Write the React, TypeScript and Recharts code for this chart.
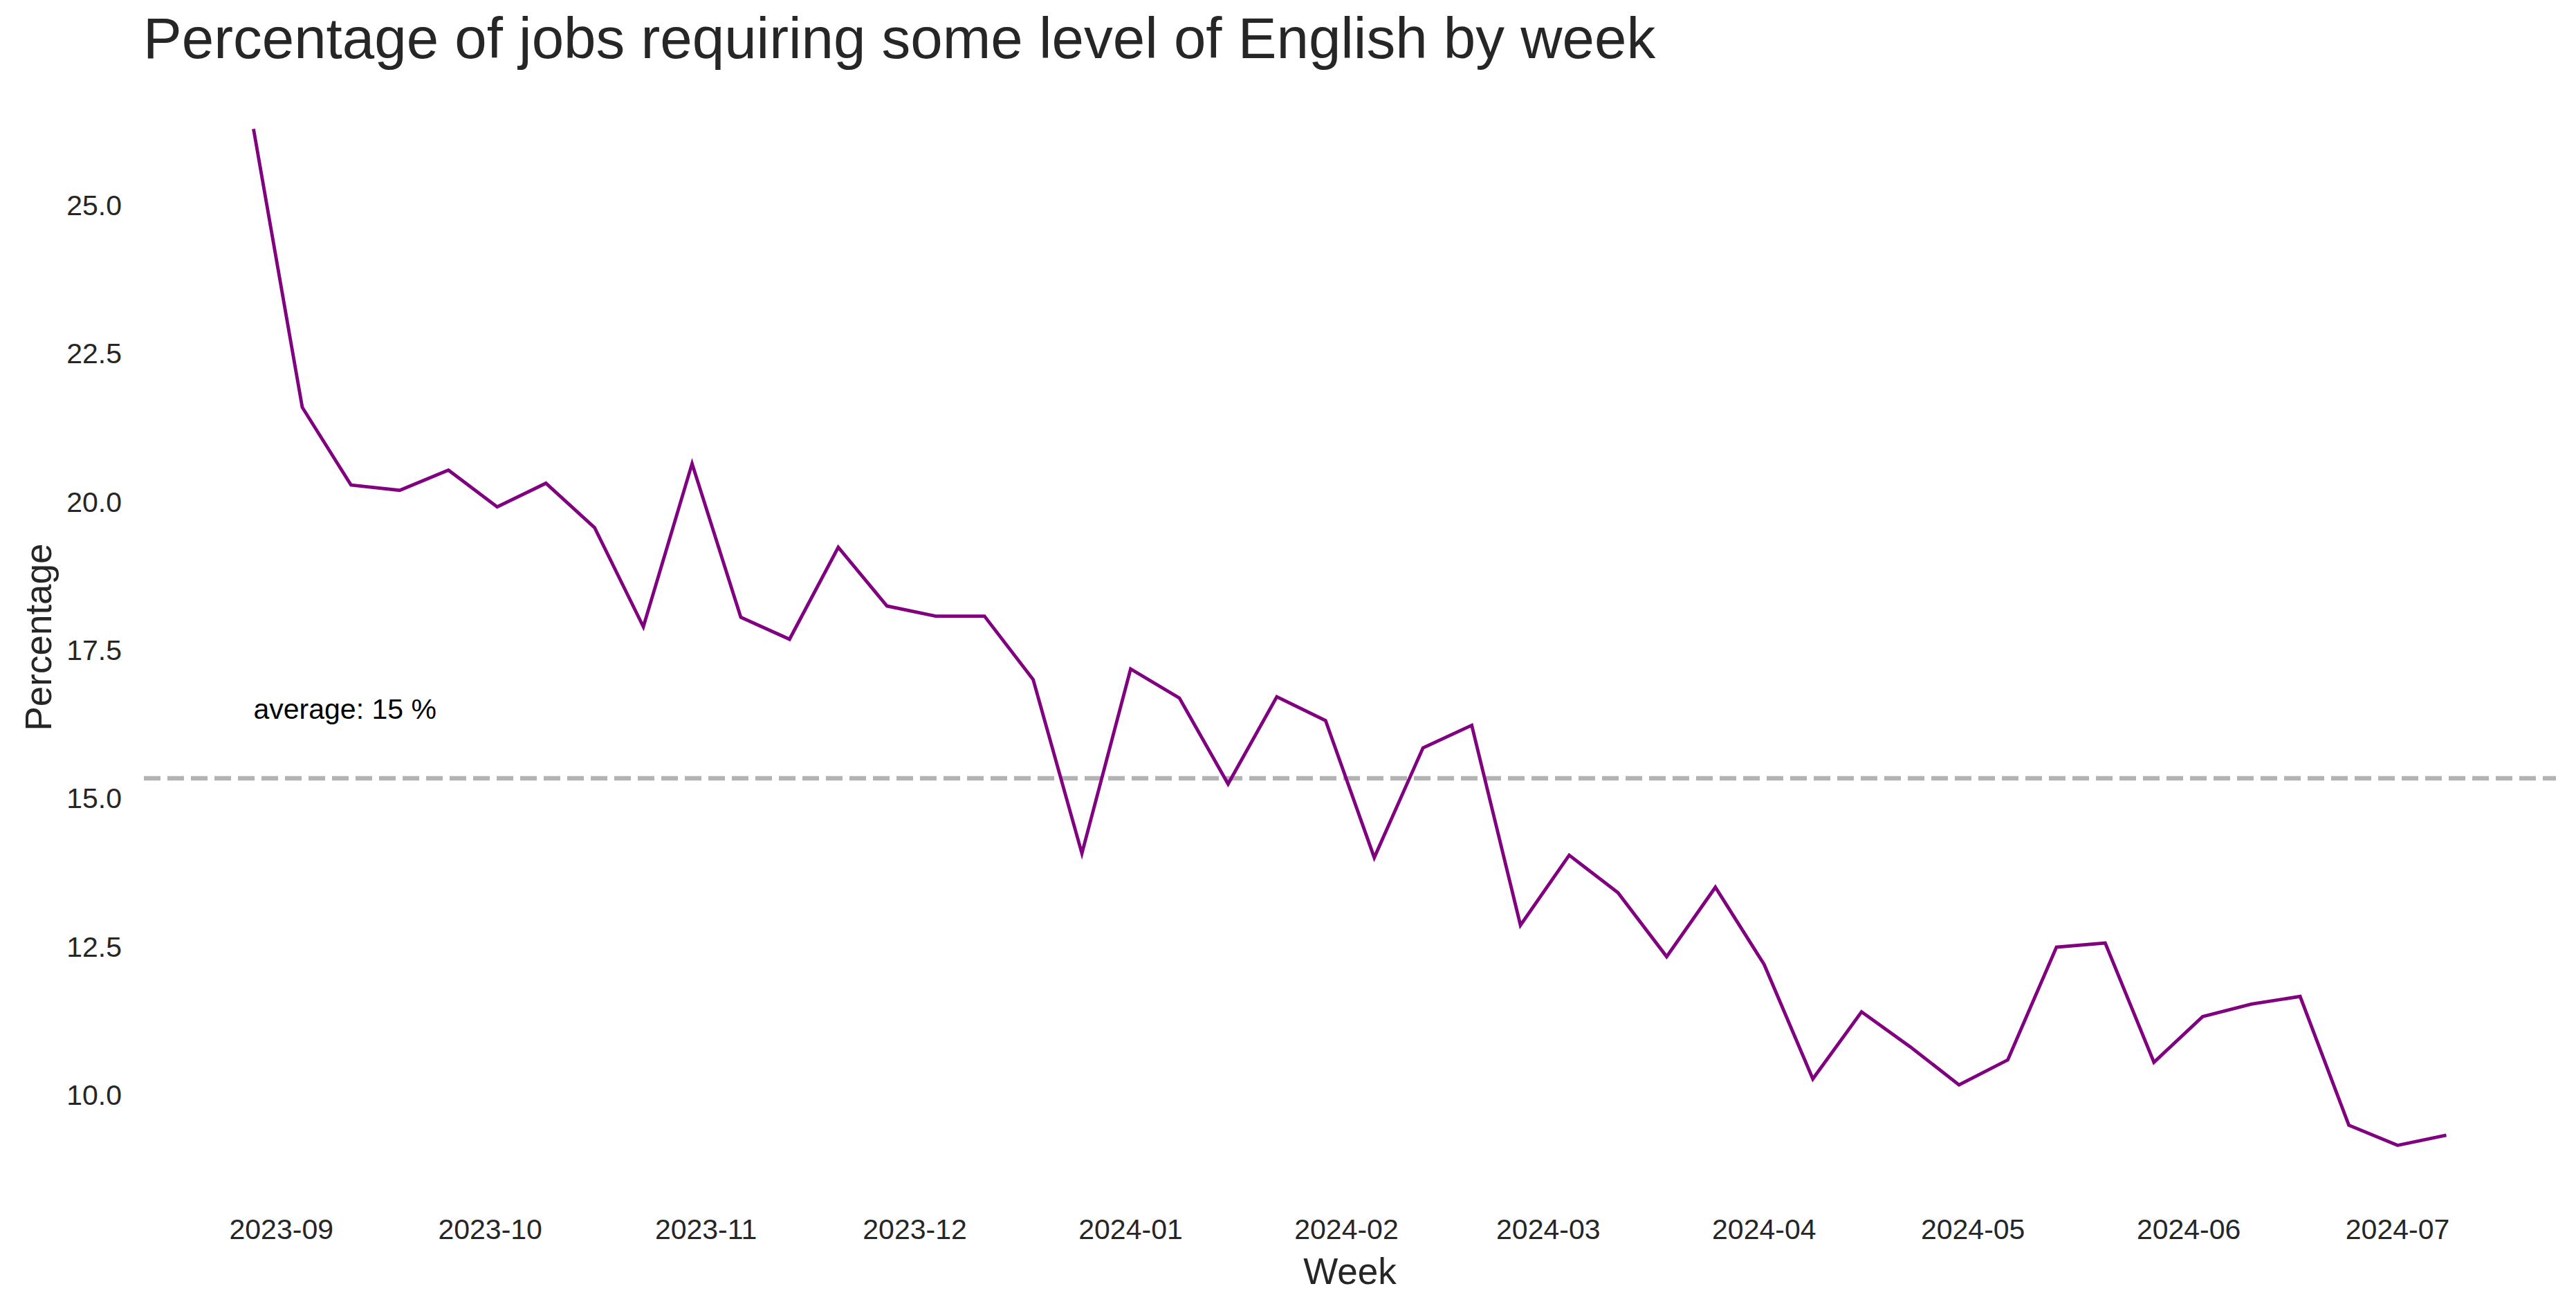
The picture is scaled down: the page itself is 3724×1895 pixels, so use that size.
import React from "react";
import { LineChart, Line, XAxis, YAxis, ReferenceLine, ReferenceDot } from "recharts";

const weeks = [
  "2023-08-28", "2023-09-04", "2023-09-11", "2023-09-18", "2023-09-25",
  "2023-10-02", "2023-10-09", "2023-10-16", "2023-10-23", "2023-10-30",
  "2023-11-06", "2023-11-13", "2023-11-20", "2023-11-27",
  "2023-12-04", "2023-12-11", "2023-12-18", "2023-12-25",
  "2024-01-01", "2024-01-08", "2024-01-15", "2024-01-22", "2024-01-29",
  "2024-02-05", "2024-02-12", "2024-02-19", "2024-02-26",
  "2024-03-04", "2024-03-11", "2024-03-18", "2024-03-25",
  "2024-04-01", "2024-04-08", "2024-04-15", "2024-04-22", "2024-04-29",
  "2024-05-06", "2024-05-13", "2024-05-20", "2024-05-27",
  "2024-06-03", "2024-06-10", "2024-06-17", "2024-06-24",
  "2024-07-01", "2024-07-08",
];

const percentage = [
  26.28, 21.59, 20.28, 20.19, 20.53, 19.91, 20.31, 19.56, 17.89, 20.64,
  18.05, 17.68, 19.23, 18.24, 18.07, 18.07, 17.0, 14.07, 17.18, 16.69,
  15.24, 16.71, 16.31, 14.0, 15.85, 16.23, 12.86, 14.04, 13.41, 12.33,
  13.5, 12.2, 10.27, 11.4, 10.81, 10.17, 10.59, 12.49, 12.56, 10.55,
  11.32, 11.53, 11.66, 9.49, 9.15, 9.32,
];

const monthTicks = [
  "2023-09", "2023-10", "2023-11", "2023-12", "2024-01", "2024-02",
  "2024-03", "2024-04", "2024-05", "2024-06", "2024-07",
];

const yTicks = [10, 12.5, 15, 17.5, 20, 22.5, 25];

const W = 3724;
const H = 1895;
const FONT = '"Liberation Sans", Arial, Helvetica, sans-serif';
const TEXT = "#262626";

const data = weeks.map((w, i) => ({ t: Date.parse(w), pct: percentage[i] }));
const avg = percentage.reduce((s, v) => s + v, 0) / percentage.length;

// matplotlib-style 5% margins
const tMin = data[0].t;
const tMax = data[data.length - 1].t;
const tPad = (tMax - tMin) * 0.05;
const yMin = Math.min(...percentage);
const yMax = Math.max(...percentage);
const yPad = (yMax - yMin) * 0.05;

const fmtMonth = (v: number) => {
  const d = new Date(v);
  return `${d.getUTCFullYear()}-${String(d.getUTCMonth() + 1).padStart(2, "0")}`;
};

export default function App() {
  return (
    <div style={{ position: "relative", width: W, height: H, fontFamily: FONT, background: "#fff" }}>
      <style>{`body{margin:0}`}</style>
      <div
        style={{
          position: "absolute",
          left: 207,
          top: 90 - 83.5 * 0.905,
          fontSize: 83.5,
          lineHeight: 1,
          color: TEXT,
          whiteSpace: "nowrap",
        }}
      >
        Percentage of jobs requiring some level of English by week
      </div>
      <LineChart width={W} height={H} data={data} margin={{ top: 113, right: 29, bottom: 0, left: 0 }}>
        <XAxis
          dataKey="t"
          type="number"
          domain={[tMin - tPad, tMax + tPad]}
          ticks={monthTicks.map((m) => Date.parse(m + "-01"))}
          tickFormatter={fmtMonth}
          interval={0}
          height={166}
          axisLine={false}
          tickLine={false}
          tickSize={0}
          tickMargin={33}
          tick={{ fill: TEXT, fontSize: 41 }}
          label={{ value: "Week", position: "insideBottom", offset: 39, fill: TEXT, fontSize: 53 }}
        />
        <YAxis
          type="number"
          domain={[yMin - yPad, yMax + yPad]}
          ticks={yTicks}
          tickFormatter={(v: number) => v.toFixed(1)}
          width={208}
          axisLine={false}
          tickLine={false}
          tickSize={0}
          tickMargin={32}
          tick={{ fill: TEXT, fontSize: 41 }}
          label={{
            value: "Percentage",
            angle: -90,
            position: "insideLeft",
            offset: 55,
            fill: TEXT,
            fontSize: 53,
            style: { textAnchor: "middle" },
          }}
        />
        <ReferenceLine y={avg} stroke="#b3b3b3" strokeWidth={6.4} strokeDasharray="24 10" />
        <ReferenceDot
          x={tMin}
          y={avg + 1}
          shape={(p: any) => (
            <text x={p.cx} y={p.cy} fontSize={41} fill="#000">
              {`average: ${Math.round(avg)} %`}
            </text>
          )}
        />
        <Line
          type="linear"
          dataKey="pct"
          stroke="#800080"
          strokeWidth={4.85}
          dot={false}
          activeDot={false}
          isAnimationActive={false}
        />
      </LineChart>
    </div>
  );
}
